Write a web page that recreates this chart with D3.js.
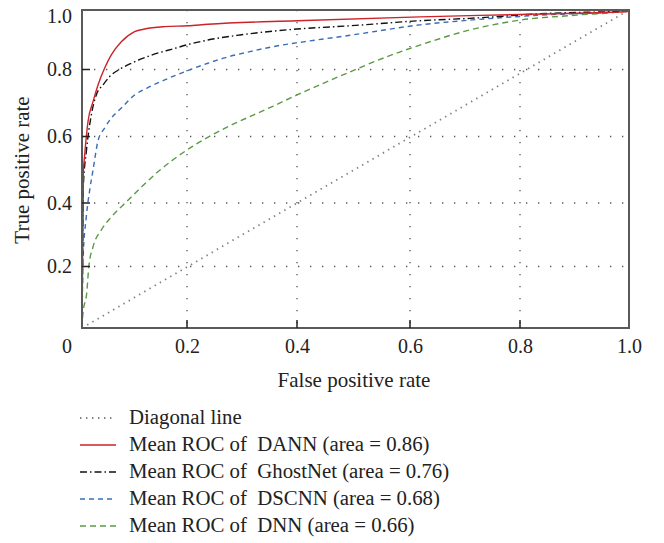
<!DOCTYPE html>
<html>
<head>
<meta charset="utf-8">
<script src="https://cdn.jsdelivr.net/npm/d3@7"></script>
<style>
  html, body { margin: 0; padding: 0; background: #fff; }
  svg text { font-family: "Liberation Serif", "DejaVu Serif", serif; fill: #222; }
</style>
</head>
<body>
<svg id="chart" width="664" height="543"></svg>
<script>
// ---------------- data ----------------
const xTickValues = [0.2, 0.4, 0.6, 0.8, 1.0];
const yTickValues = [0.2, 0.4, 0.6, 0.8, 1.0];
const xTickLabels = ["0.2", "0.4", "0.6", "0.8", "1.0"];
const yTickLabels = ["0.2", "0.4", "0.6", "0.8", "1.0"];
const originLabel = "0";
const xTitle = "False positive rate";
const yTitle = "True positive rate";

const diagonalFPR = [0, 1];
const diagonalTPR = [0, 1];

const dannFPR = [0, 0.001, 0.002, 0.0025, 0.0051, 0.0114, 0.021, 0.0305, 0.043, 0.0558, 0.0749, 0.1003, 0.1194, 0.1575, 0.2018, 0.238, 0.4, 0.618, 0.8, 0.996, 1];
const dannTPR = [0, 0.2, 0.35, 0.49, 0.544, 0.644, 0.704, 0.754, 0.804, 0.849, 0.893, 0.927, 0.936, 0.944, 0.947, 0.952, 0.964, 0.977, 0.985, 0.994, 1];

const ghostFPR = [0, 0.001, 0.0025, 0.0082, 0.0177, 0.0272, 0.04, 0.0528, 0.0749, 0.0939, 0.1168, 0.132, 0.1766, 0.2, 0.238, 0.296, 0.4, 0.494, 0.618, 0.709, 0.855, 0.996, 1];
const ghostTPR = [0, 0.2, 0.449, 0.554, 0.664, 0.724, 0.754, 0.779, 0.804, 0.821, 0.838, 0.848, 0.871, 0.883, 0.899, 0.916, 0.936, 0.947, 0.964, 0.972, 0.989, 0.997, 1];

const dscnnFPR = [0, 0.0019, 0.0082, 0.0147, 0.021, 0.0305, 0.043, 0.0558, 0.0749, 0.1003, 0.1232, 0.1575, 0.2, 0.238, 0.266, 0.3145, 0.357, 0.4115, 0.494, 0.618, 0.709, 0.842, 0.996, 1];
const dscnnTPR = [0, 0.22, 0.357, 0.439, 0.499, 0.587, 0.625, 0.655, 0.685, 0.724, 0.744, 0.769, 0.796, 0.821, 0.838, 0.86, 0.877, 0.893, 0.915, 0.95, 0.966, 0.983, 0.997, 1];

const dnnFPR = [0, 0.0019, 0.009, 0.013, 0.021, 0.0368, 0.0558, 0.0876, 0.1105, 0.1486, 0.193, 0.236, 0.278, 0.3205, 0.357, 0.4, 0.494, 0.559, 0.618, 0.709, 0.8, 0.904, 0.996, 1];
const dnnTPR = [0, 0.049, 0.114, 0.2, 0.262, 0.315, 0.356, 0.408, 0.444, 0.499, 0.552, 0.596, 0.632, 0.664, 0.691, 0.724, 0.793, 0.843, 0.882, 0.933, 0.966, 0.983, 0.997, 1];

const seriesNames = ["Diagonal line", "Mean ROC of  DANN (area = 0.86)", "Mean ROC of  GhostNet (area = 0.76)", "Mean ROC of  DSCNN (area = 0.68)", "Mean ROC of  DNN (area = 0.66)"];

// ---------------- layout / styles ----------------
const styles = [
  { color: "#808080", width: 1.8, dash: "1.4,4.6" },
  { color: "#cc2229", width: 1.4, dash: null },
  { color: "#111111", width: 1.4, dash: "7,3,1.5,3" },
  { color: "#3a6db6", width: 1.4, dash: "5,4" },
  { color: "#5a9a43", width: 1.4, dash: "6,4" }
];
const seriesX = [diagonalFPR, dannFPR, ghostFPR, dscnnFPR, dnnFPR];
const seriesY = [diagonalTPR, dannTPR, ghostTPR, dscnnTPR, dnnTPR];

const svg = d3.select("#chart");
const L = 82, R = 629, T = 10, B = 328;
const tickFont = 20, titleFont = 21, legendFont = 20.8;

// piecewise scales matching the reference's slightly uneven grid
const x = d3.scaleLinear().domain([0, 0.2, 0.4, 0.6, 0.8, 1]).range([L, 187, 297, 410, 520, R]);
const y = d3.scaleLinear().domain([0, 0.2, 0.4, 0.6, 0.8, 1]).range([B, 266.5, 203, 136.5, 69.5, T]);

// grid lines (dotted)
const gridX = [0.2, 0.4, 0.6, 0.8];
const gridY = [0.2, 0.4, 0.6, 0.8];
svg.append("g").selectAll("line").data(gridX).join("line")
  .attr("x1", d => x(d)).attr("x2", d => x(d)).attr("y1", T).attr("y2", B)
  .attr("stroke", "#555").attr("stroke-width", 1.3).attr("stroke-dasharray", "1.3,10.7");
svg.append("g").selectAll("line").data(gridY).join("line")
  .attr("y1", d => y(d)).attr("y2", d => y(d)).attr("x1", L).attr("x2", R)
  .attr("stroke", "#555").attr("stroke-width", 1.3).attr("stroke-dasharray", "1.3,10.7");

// curves
svg.append("clipPath").attr("id", "clip").append("rect")
  .attr("x", L).attr("y", T - 2).attr("width", R - L).attr("height", B - T + 2);
const line = d3.line().x(d => x(d[0])).y(d => y(d[1])).curve(d3.curveMonotoneX);
const curves = svg.append("g").attr("clip-path", "url(#clip)");
[4, 3, 2, 0, 1].forEach(i => {
  const pts = seriesX[i].map((v, k) => [v, seriesY[i][k]]);
  curves.append("path").datum(pts)
    .attr("d", line)
    .attr("fill", "none")
    .attr("stroke", styles[i].color)
    .attr("stroke-width", styles[i].width)
    .attr("stroke-dasharray", styles[i].dash);
});

// frame
svg.append("rect").attr("x", L).attr("y", T).attr("width", R - L).attr("height", B - T)
  .attr("fill", "none").attr("stroke", "#5a5a5a").attr("stroke-width", 2);

// x axis
const xAxis = d3.axisBottom(x).tickValues(xTickValues)
  .tickFormat((d, i) => xTickLabels[i]).tickSize(0).tickPadding(0);
const gx = svg.append("g").attr("transform", `translate(0,${B})`).call(xAxis);
gx.select(".domain").remove();
gx.selectAll("text").attr("font-size", tickFont).attr("dy", null).attr("y", 25).attr("fill", "#222")
  .style("font-family", "Liberation Serif, serif");
svg.append("g").selectAll("line").data(gridX).join("line")
  .attr("x1", d => x(d)).attr("x2", d => x(d)).attr("y1", B).attr("y2", B - 8)
  .attr("stroke", "#222").attr("stroke-width", 1.5);
svg.append("text").attr("x", 67).attr("y", B + 25).attr("text-anchor", "middle")
  .attr("font-size", tickFont).text(originLabel);

// y axis
const yAxis = d3.axisLeft(y).tickValues(yTickValues)
  .tickFormat((d, i) => yTickLabels[i]).tickSize(0).tickPadding(10);
const gy = svg.append("g").attr("transform", `translate(${L},0)`).call(yAxis);
gy.select(".domain").remove();
gy.selectAll("text").attr("font-size", tickFont).attr("fill", "#222")
  .style("font-family", "Liberation Serif, serif");
gy.selectAll(".tick").filter(d => d === 1).select("text").attr("dy", "0.62em");
svg.append("g").selectAll("line").data(gridY).join("line")
  .attr("y1", d => y(d)).attr("y2", d => y(d)).attr("x1", L).attr("x2", L + 8)
  .attr("stroke", "#222").attr("stroke-width", 1.5);

// axis titles
svg.append("text").attr("x", 354).attr("y", 387).attr("text-anchor", "middle")
  .attr("font-size", titleFont).text(xTitle);
svg.append("text").attr("transform", "translate(29,170) rotate(-90)")
  .attr("text-anchor", "middle").attr("font-size", titleFont).text(yTitle);

// legend
const legendY0 = 418, legendStep = 27;
const lg = svg.append("g");
seriesNames.forEach((name, i) => {
  const yy = legendY0 + i * legendStep;
  lg.append("line").attr("x1", 80).attr("x2", 116).attr("y1", yy).attr("y2", yy)
    .attr("stroke", styles[i].color).attr("stroke-width", styles[i].width)
    .attr("stroke-dasharray", styles[i].dash);
  lg.append("text").attr("x", 129).attr("y", yy + 6).attr("font-size", legendFont)
    .style("white-space", "pre").text(name);
});
</script>
</body>
</html>
